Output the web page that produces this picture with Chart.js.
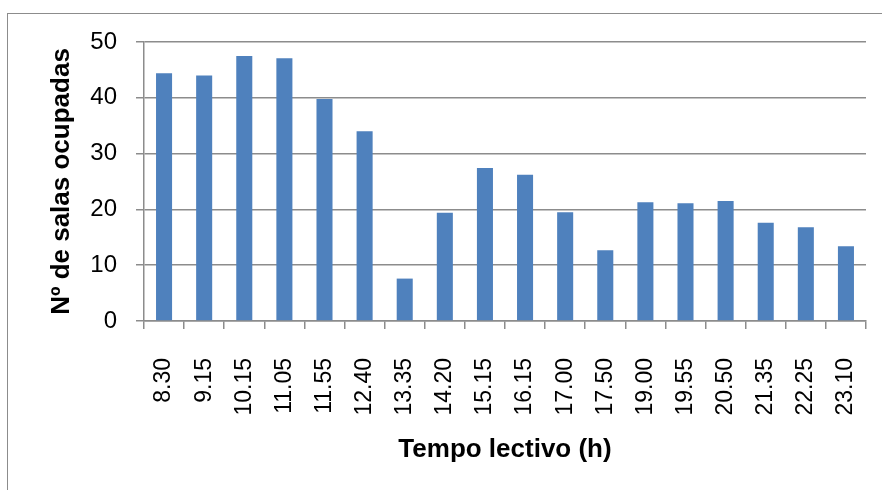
<!DOCTYPE html>
<html>
<head>
<meta charset="utf-8">
<title>Nº de salas ocupadas</title>
<script src="https://cdn.jsdelivr.net/npm/chart.js@4.4.1/dist/chart.umd.min.js"></script>
<style>
  html, body { margin: 0; padding: 0; background: #fff; overflow: hidden; }
  #wrap  { position: relative; width: 882px; height: 490px; }
  #frame { position: absolute; left: 7px; top: 13px; width: 900px; height: 500px;
           border: 1px solid #8c8c8c; box-sizing: border-box; pointer-events: none; }
  canvas { position: absolute; left: 0; top: 0; }
</style>
</head>
<body>
<div id="wrap">
  <div id="frame"></div>
  <canvas id="salasChart" width="882" height="490"></canvas>
</div>
<script>
const horarios = ['8.30', '9.15', '10.15', '11.05', '11.55', '12.40', '13.35', '14.20', '15.15',
                  '16.15', '17.00', '17.50', '19.00', '19.55', '20.50', '21.35', '22.25', '23.10'];
const salasOcupadas = [44.4, 44.0, 47.5, 47.1, 39.8, 34.0, 7.6, 19.4, 27.4,
                       26.2, 19.5, 12.7, 21.3, 21.1, 21.5, 17.6, 16.8, 13.4];
const yTicks = [0, 10, 20, 30, 40, 50];

const gridGrey = '#8c8c8c';
const sans     = "'Liberation Sans', Arial, sans-serif";

new Chart(document.getElementById('salasChart'), {
  type: 'bar',
  data: {
    labels: horarios,
    datasets: [{
      data: salasOcupadas,
      backgroundColor: '#4f81bd',
      borderWidth: 0,
      barPercentage: 0.4,
      categoryPercentage: 1.0,
    }]
  },
  options: {
    responsive: false,
    animation: false,
    layout: { padding: { top: 42, right: 16, left: 0, bottom: 0 } },
    plugins: { legend: { display: false }, tooltip: { enabled: false } },
    scales: {
      x: {
        // fixed height, and no extra side room for the rotated labels
        afterFit: s => { s.height = 169; s.paddingLeft = 0; s.paddingRight = 0; },
        grid: { drawOnChartArea: false, drawTicks: true, tickLength: 8, color: gridGrey, lineWidth: 1.5 },
        border: { color: gridGrey, width: 1.5 },
        ticks: {
          minRotation: 90, maxRotation: 90, autoSkip: false, padding: 29,
          color: '#000', font: { family: sans, size: 23 }
        },
        title: {
          display: true, text: 'Tempo lectivo (h)', color: '#000',
          font: { family: sans, size: 26, weight: 'bold' },
          padding: { top: 0, bottom: 25 }
        }
      },
      y: {
        min: 0, max: 50,
        afterFit: s => { s.width = 144; },
        afterBuildTicks: s => { s.ticks = yTicks.map(v => ({ value: v })); },
        grid: { color: gridGrey, lineWidth: 1.5, tickLength: 8 },
        border: { color: gridGrey, width: 1.5 },
        ticks: { padding: 19, color: '#000', font: { family: sans, size: 24 } },
        title: {
          display: true, text: 'Nº de salas ocupadas', color: '#000',
          font: { family: sans, size: 26, weight: 'bold' },
          padding: { top: 46, bottom: 0 }
        }
      }
    }
  }
});
</script>
</body>
</html>
